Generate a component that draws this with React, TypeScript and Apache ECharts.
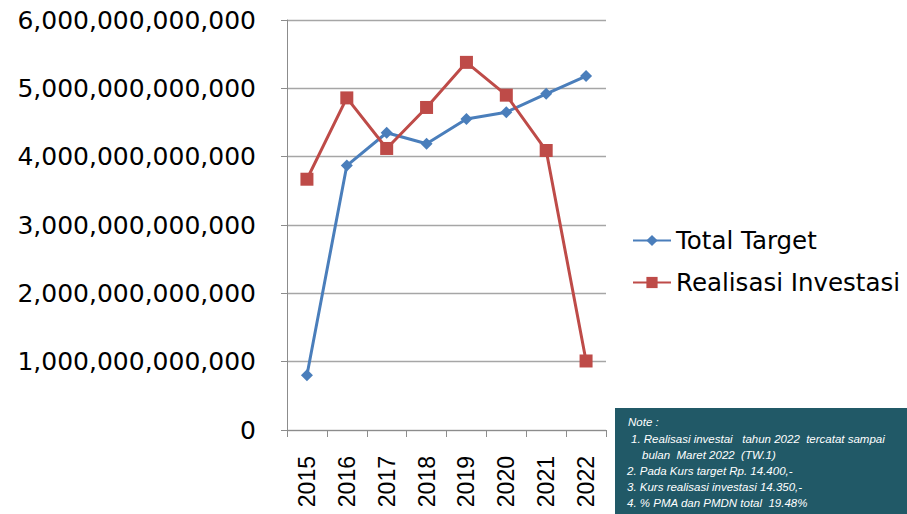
import React, { useEffect, useRef } from "react";
import * as echarts from "echarts";

const years = ["2015", "2016", "2017", "2018", "2019", "2020", "2021", "2022"];
const totalTarget = [0.8e12, 3.87e12, 4.35e12, 4.19e12, 4.55e12, 4.65e12, 4.92e12, 5.18e12];
const realisasiInvestasi = [3.67e12, 4.86e12, 4.12e12, 4.72e12, 5.38e12, 4.9e12, 4.09e12, 1.01e12];
const noteLines = [
  "Note :",
  " 1. Realisasi investai   tahun 2022  tercatat sampai",
  "    bulan  Maret 2022  (TW.1)",
  "2. Pada Kurs target Rp. 14.400,-",
  "3. Kurs realisasi investasi 14.350,-",
  "4. % PMA dan PMDN total  19.48%",
];

export default function App() {
  const ref = useRef<HTMLDivElement>(null);
  useEffect(() => {
    if (!ref.current) return;
    const chart = echarts.init(ref.current, null, { renderer: "svg" });
    const noteX = [628, 631, 642, 627, 627, 627];
    const noteY = [422, 439, 455, 471, 487, 503];
    chart.setOption({
      animation: false,
      backgroundColor: "#ffffff",
      grid: { left: 287, right: 301, top: 20, bottom: 84, containLabel: false },
      legend: {
        orient: "vertical",
        left: 627,
        top: 223,
        itemWidth: 38,
        itemHeight: 14,
        itemGap: 17,
        textStyle: { fontFamily: "DejaVu Sans", fontSize: 24.5, color: "#000" },
        data: ["Total Target", "Realisasi Investasi"],
      },
      xAxis: {
        type: "category",
        data: years,
        boundaryGap: true,
        axisLine: { lineStyle: { color: "#8c8c8c", width: 1 } },
        axisTick: { show: true, length: 7, alignWithLabel: false, lineStyle: { color: "#8c8c8c" } },
        axisLabel: {
          rotate: 90,
          margin: 26,
          fontFamily: "Liberation Sans",
          fontSize: 23,
          color: "#000",
          interval: 0,
        },
      },
      yAxis: {
        type: "value",
        min: 0,
        max: 6e12,
        interval: 1e12,
        axisLine: { show: true, lineStyle: { color: "#8c8c8c", width: 1 } },
        axisTick: { show: true, length: 6, lineStyle: { color: "#8c8c8c" } },
        splitLine: { lineStyle: { color: "#a6a6a6", width: 1.3 } },
        axisLabel: {
          margin: 31,
          fontFamily: "DejaVu Sans",
          fontSize: 25,
          color: "#000",
          formatter: (v: number) => v.toLocaleString("en-US"),
        },
      },
      series: [
        {
          name: "Total Target",
          type: "line",
          data: totalTarget,
          symbol: "diamond",
          symbolSize: 12,
          lineStyle: { color: "#4a7ebb", width: 3 },
          itemStyle: { color: "#4a7ebb" },
        },
        {
          name: "Realisasi Investasi",
          type: "line",
          data: realisasiInvestasi,
          symbol: "rect",
          symbolSize: 13,
          lineStyle: { color: "#be4b48", width: 3 },
          itemStyle: { color: "#be4b48" },
        },
      ],
      graphic: [
        {
          type: "rect",
          shape: { x: 615, y: 408, width: 292, height: 106 },
          style: { fill: "#215967" },
        },
        ...noteLines.map((t, i) => ({
          type: "text",
          x: noteX[i],
          y: noteY[i],
          style: {
            text: t.trim(),
            fill: "#ffffff",
            font: "italic 11.5px 'Liberation Sans'",
            textVerticalAlign: "middle",
          },
        })),
      ],
    });
    return () => chart.dispose();
  }, []);
  return <div ref={ref} style={{ width: 907, height: 514, position: "absolute", left: 0, top: 0 }} />;
}
